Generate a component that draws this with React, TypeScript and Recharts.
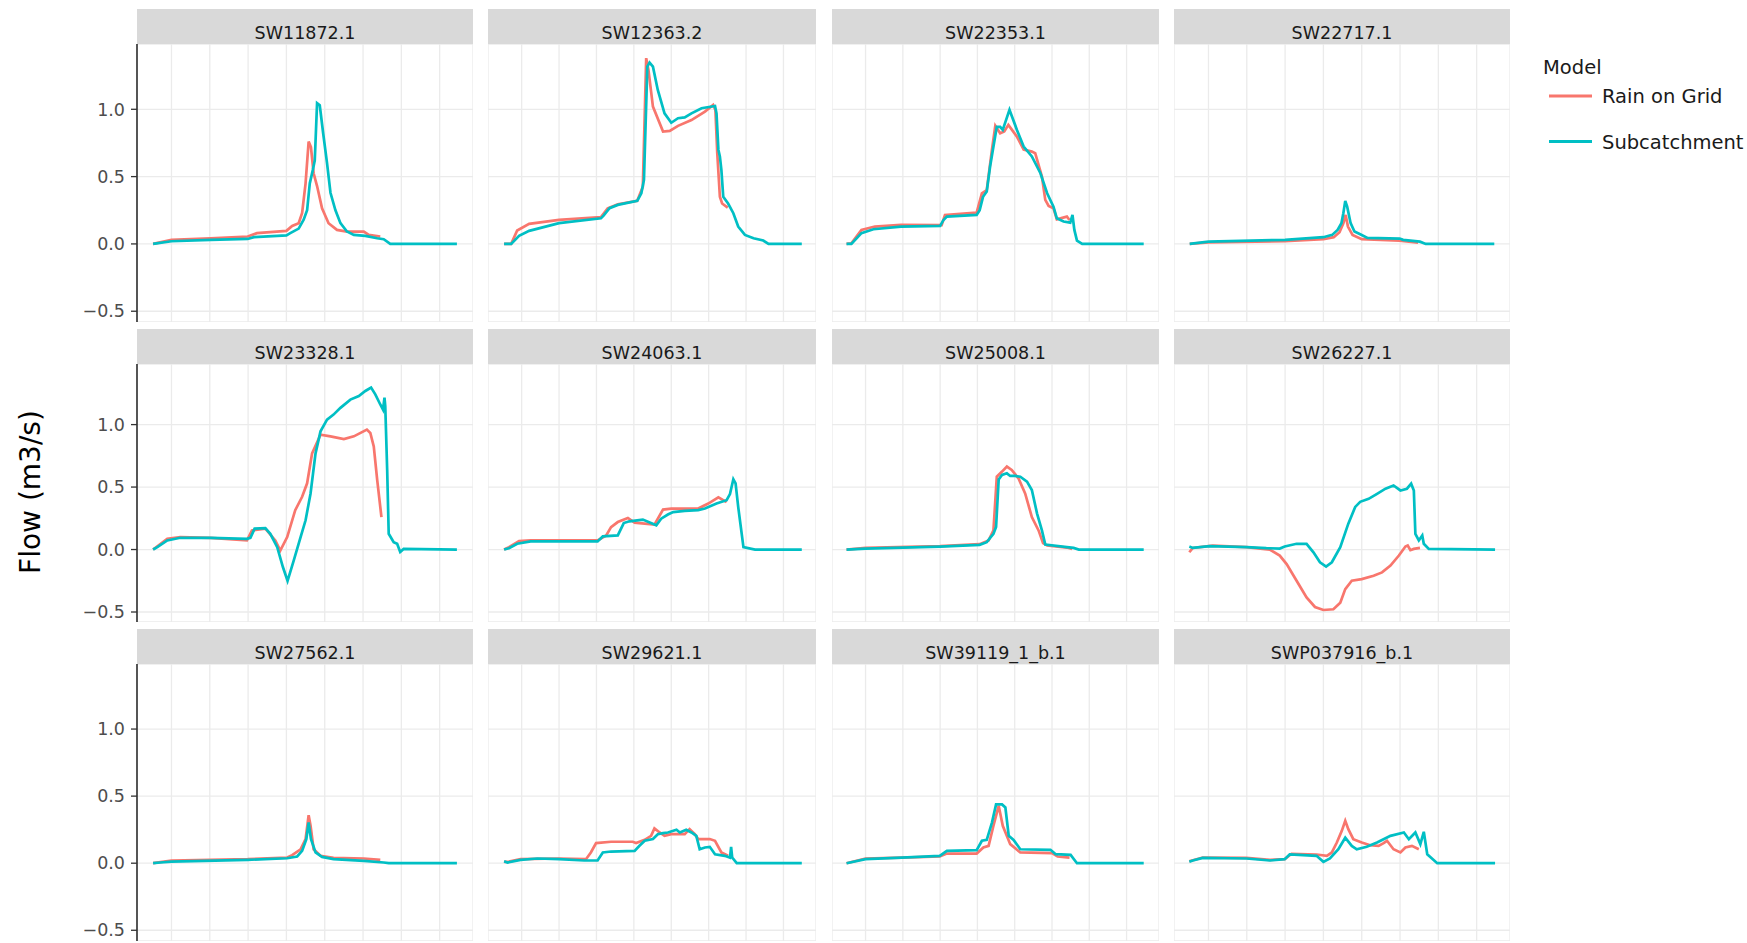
import { CartesianGrid, Line, LineChart, XAxis, YAxis } from "recharts";

// each series is a list of [time, flow m3/s] points
type Pt = [number, number];

const RAIN = "#F8766D";
const SUB = "#00BFC4";

const sw11872Rain: Pt[] = [
  [0.52, 0], [1.0, 0.03], [2.02, 0.042], [2.99, 0.055], [3.23, 0.08], [4.0, 0.097], [4.15, 0.134],
  [4.32, 0.154], [4.41, 0.23], [4.5, 0.45], [4.58, 0.76], [4.64, 0.72], [4.71, 0.525], [4.8, 0.43],
  [4.93, 0.265], [5.1, 0.154], [5.32, 0.104], [5.58, 0.092], [6.02, 0.092], [6.15, 0.067], [6.45, 0.055],
];
const sw11872Sub: Pt[] = [
  [0.52, 0], [1.0, 0.02], [2.02, 0.03], [2.99, 0.037], [3.15, 0.05], [4.0, 0.064], [4.1, 0.08],
  [4.32, 0.114], [4.45, 0.18], [4.54, 0.25], [4.61, 0.45], [4.69, 0.55], [4.74, 0.62], [4.8, 1.045],
  [4.87, 1.03], [4.96, 0.82], [5.06, 0.6], [5.15, 0.38], [5.28, 0.25], [5.41, 0.154], [5.58, 0.092],
  [5.76, 0.067], [6.06, 0.06], [6.37, 0.042], [6.54, 0.035], [6.71, 0], [8.45, 0],
];

const sw12363Rain: Pt[] = [
  [0.53, 0], [0.72, 0], [0.88, 0.1], [1.2, 0.149], [2.0, 0.178], [3.12, 0.2], [3.3, 0.265],
  [3.57, 0.295], [4.09, 0.32], [4.24, 0.425], [4.33, 1.38], [4.39, 1.293], [4.51, 1.02], [4.78, 0.835],
  [4.96, 0.84], [5.18, 0.877], [5.54, 0.92], [5.9, 0.983], [6.12, 1.033], [6.18, 0.995], [6.23, 0.674],
  [6.3, 0.35], [6.36, 0.3], [6.51, 0.27],
];
const sw12363Sub: Pt[] = [
  [0.53, 0], [0.72, 0], [0.93, 0.06], [1.2, 0.097], [2.0, 0.154], [3.12, 0.19], [3.19, 0.21],
  [3.35, 0.265], [3.57, 0.29], [4.09, 0.32], [4.2, 0.376], [4.27, 0.475], [4.36, 1.317], [4.42, 1.347],
  [4.51, 1.317], [4.64, 1.144], [4.82, 0.97], [5.0, 0.9], [5.18, 0.934], [5.36, 0.94], [5.54, 0.97],
  [5.81, 1.008], [6.17, 1.025], [6.21, 0.97], [6.26, 0.7], [6.3, 0.65], [6.34, 0.55], [6.39, 0.35],
  [6.52, 0.3], [6.66, 0.228], [6.79, 0.129], [6.97, 0.067], [7.2, 0.042], [7.46, 0.025], [7.6, 0],
  [8.49, 0],
];

const sw22353Rain: Pt[] = [
  [0.49, 0], [0.62, 0.005], [0.89, 0.104], [1.25, 0.129], [1.95, 0.141], [3.04, 0.139], [3.13, 0.215],
  [3.98, 0.233], [4.12, 0.376], [4.25, 0.4], [4.39, 0.7], [4.48, 0.877], [4.61, 0.822], [4.72, 0.835],
  [4.83, 0.884], [5.06, 0.797], [5.24, 0.7], [5.46, 0.686], [5.55, 0.674], [5.73, 0.5], [5.82, 0.327],
  [5.91, 0.282], [6.04, 0.265], [6.13, 0.183], [6.4, 0.203], [6.47, 0.178],
];
const sw22353Sub: Pt[] = [
  [0.49, 0], [0.62, 0], [0.89, 0.08], [1.21, 0.109], [1.95, 0.129], [3.0, 0.134], [3.09, 0.178],
  [3.18, 0.203], [3.98, 0.215], [4.06, 0.25], [4.15, 0.35], [4.25, 0.39], [4.34, 0.575], [4.43, 0.723],
  [4.52, 0.87], [4.61, 0.87], [4.68, 0.847], [4.86, 0.996], [5.06, 0.847], [5.24, 0.723], [5.46, 0.65],
  [5.69, 0.525], [5.87, 0.376], [6.04, 0.277], [6.13, 0.19], [6.31, 0.166], [6.49, 0.158], [6.55, 0.215],
  [6.6, 0.104], [6.67, 0.025], [6.81, 0], [8.46, 0],
];

const sw22717Rain: Pt[] = [
  [0.51, 0], [1.0, 0.012], [3.0, 0.02], [4.0, 0.035], [4.27, 0.05], [4.42, 0.087], [4.52, 0.154],
  [4.58, 0.215], [4.64, 0.129], [4.76, 0.067], [5.0, 0.035], [5.99, 0.025], [6.47, 0.01],
];
const sw22717Sub: Pt[] = [
  [0.51, 0], [1.0, 0.017], [3.0, 0.03], [4.0, 0.05], [4.23, 0.067], [4.37, 0.104], [4.47, 0.154],
  [4.52, 0.228], [4.57, 0.32], [4.62, 0.277], [4.71, 0.154], [4.81, 0.092], [4.96, 0.072], [5.15, 0.045],
  [5.99, 0.04], [6.08, 0.03], [6.52, 0.017], [6.67, 0], [8.46, 0],
];

const sw23328Rain: Pt[] = [
  [0.52, 0], [0.89, 0.086], [1.23, 0.1], [2.02, 0.094], [2.97, 0.073], [3.1, 0.153], [3.45, 0.167],
  [3.71, 0.073], [3.84, -0.008], [4.02, 0.1], [4.23, 0.315], [4.41, 0.422], [4.54, 0.53], [4.67, 0.77],
  [4.89, 0.919], [5.15, 0.906], [5.5, 0.884], [5.76, 0.906], [6.1, 0.96], [6.19, 0.933], [6.28, 0.825],
  [6.37, 0.556], [6.48, 0.26],
];
const sw23328Sub: Pt[] = [
  [0.52, 0], [0.63, 0.019], [0.89, 0.073], [1.23, 0.094], [2.02, 0.094], [2.97, 0.086], [3.06, 0.094],
  [3.17, 0.167], [3.45, 0.172], [3.58, 0.126], [3.76, 0.019], [3.91, -0.142], [4.03, -0.25], [4.19, -0.089],
  [4.37, 0.1], [4.5, 0.234], [4.63, 0.449], [4.76, 0.77], [4.89, 0.946], [5.06, 1.04], [5.23, 1.08],
  [5.41, 1.134], [5.67, 1.2], [5.89, 1.228], [6.06, 1.269], [6.21, 1.296], [6.32, 1.242], [6.45, 1.161],
  [6.52, 1.12], [6.56, 1.215], [6.58, 1.148], [6.63, 0.637], [6.67, 0.126], [6.8, 0.059], [6.89, 0.046],
  [6.97, -0.02], [7.06, 0.005], [8.45, 0],
];

const sw24063Rain: Pt[] = [
  [0.53, 0], [0.66, 0.019], [0.93, 0.067], [1.24, 0.073], [3.03, 0.073], [3.26, 0.113], [3.39, 0.18],
  [3.57, 0.22], [3.84, 0.253], [4.02, 0.215], [4.55, 0.2], [4.78, 0.32], [5.0, 0.328], [5.72, 0.328],
  [5.99, 0.368], [6.26, 0.417], [6.48, 0.38],
];
const sw24063Sub: Pt[] = [
  [0.53, 0], [0.66, 0.01], [0.88, 0.046], [1.24, 0.065], [2.0, 0.065], [3.03, 0.065], [3.17, 0.105],
  [3.57, 0.113], [3.73, 0.212], [3.88, 0.226], [4.24, 0.24], [4.6, 0.194], [4.73, 0.247], [4.91, 0.28],
  [5.05, 0.3], [5.36, 0.31], [5.72, 0.315], [5.9, 0.328], [6.21, 0.368], [6.48, 0.395], [6.57, 0.444],
  [6.66, 0.562], [6.72, 0.53], [6.79, 0.341], [6.93, 0.019], [7.24, 0], [8.49, 0],
];

const sw25008Rain: Pt[] = [
  [0.49, 0], [1.0, 0.013], [3.0, 0.027], [4.06, 0.043], [4.3, 0.073], [4.43, 0.153], [4.52, 0.583],
  [4.66, 0.624], [4.79, 0.664], [4.92, 0.637], [5.1, 0.57], [5.28, 0.449], [5.46, 0.26], [5.64, 0.153],
  [5.76, 0.051], [5.87, 0.032], [6.4, 0.016], [6.54, 0.005],
];
const sw25008Sub: Pt[] = [
  [0.49, 0], [1.0, 0.008], [3.0, 0.024], [4.06, 0.038], [4.25, 0.059], [4.43, 0.126], [4.5, 0.18],
  [4.57, 0.56], [4.66, 0.597], [4.79, 0.61], [4.88, 0.589], [5.01, 0.589], [5.15, 0.583], [5.33, 0.543],
  [5.46, 0.476], [5.6, 0.288], [5.73, 0.153], [5.82, 0.04], [6.4, 0.02], [6.58, 0.013], [6.72, 0],
  [8.46, 0],
];

const sw26227Rain: Pt[] = [
  [0.5, -0.022], [0.59, 0.013], [1.11, 0.032], [1.99, 0.019], [2.6, 0], [2.86, -0.048], [3.04, -0.116],
  [3.3, -0.25], [3.56, -0.384], [3.78, -0.46], [4.0, -0.484], [4.26, -0.478], [4.44, -0.425], [4.57, -0.317],
  [4.74, -0.25], [5.0, -0.237], [5.31, -0.21], [5.53, -0.183], [5.75, -0.129], [5.97, -0.048], [6.14, 0.024],
  [6.2, 0.032], [6.27, -0.005], [6.36, 0.005], [6.52, 0.013],
];
const sw26227Sub: Pt[] = [
  [0.5, 0.024], [0.59, 0.013], [1.03, 0.027], [1.99, 0.019], [2.51, 0.011], [2.86, 0.008], [2.99, 0.024],
  [3.3, 0.046], [3.56, 0.046], [3.74, -0.022], [3.91, -0.102], [4.07, -0.137], [4.22, -0.102], [4.44, 0.019],
  [4.65, 0.207], [4.83, 0.341], [4.96, 0.382], [5.18, 0.406], [5.4, 0.446], [5.62, 0.487], [5.83, 0.513],
  [6.01, 0.473], [6.18, 0.487], [6.29, 0.527], [6.36, 0.473], [6.4, 0.126], [6.49, 0.073], [6.58, 0.113],
  [6.62, 0.046], [6.75, 0.005], [8.48, 0],
];

const sw27562Rain: Pt[] = [
  [0.52, 0], [1.0, 0.02], [2.99, 0.03], [4.02, 0.042], [4.15, 0.06], [4.37, 0.104], [4.5, 0.18],
  [4.58, 0.358], [4.63, 0.279], [4.71, 0.104], [4.89, 0.055], [5.23, 0.04], [6.02, 0.035], [6.45, 0.025],
];
const sw27562Sub: Pt[] = [
  [0.52, 0], [0.71, 0.005], [1.0, 0.012], [2.99, 0.025], [4.02, 0.037], [4.28, 0.05], [4.41, 0.092],
  [4.52, 0.18], [4.58, 0.303], [4.64, 0.18], [4.76, 0.08], [4.93, 0.047], [5.23, 0.03], [6.02, 0.017],
  [6.54, 0.005], [6.67, 0], [8.45, 0],
];

const sw29621Rain: Pt[] = [
  [0.53, 0.01], [0.66, 0.012], [0.97, 0.03], [2.0, 0.035], [2.72, 0.03], [2.85, 0.08], [2.99, 0.15],
  [3.39, 0.16], [3.97, 0.16], [4.06, 0.15], [4.29, 0.174], [4.46, 0.204], [4.55, 0.259], [4.69, 0.229],
  [4.82, 0.204], [5.0, 0.216], [5.36, 0.216], [5.49, 0.254], [5.63, 0.216], [5.72, 0.18], [6.03, 0.18],
  [6.17, 0.167], [6.34, 0.08], [6.52, 0.055],
];
const sw29621Sub: Pt[] = [
  [0.53, 0.015], [0.62, 0.005], [0.97, 0.025], [1.42, 0.035], [2.0, 0.03], [2.67, 0.02], [3.03, 0.02],
  [3.17, 0.08], [3.39, 0.087], [4.02, 0.092], [4.15, 0.13], [4.29, 0.167], [4.51, 0.18], [4.64, 0.216],
  [4.78, 0.224], [4.91, 0.229], [5.14, 0.249], [5.23, 0.229], [5.4, 0.249], [5.54, 0.229], [5.67, 0.204],
  [5.76, 0.104], [5.9, 0.117], [6.03, 0.122], [6.17, 0.067], [6.43, 0.055], [6.57, 0.042], [6.6, 0.122],
  [6.63, 0.042], [6.75, 0], [8.49, 0],
];

const sw39119Rain: Pt[] = [
  [0.49, 0], [1.0, 0.035], [1.97, 0.042], [2.99, 0.05], [3.18, 0.072], [3.98, 0.072], [4.16, 0.117],
  [4.3, 0.129], [4.43, 0.279], [4.57, 0.428], [4.68, 0.279], [4.88, 0.142], [5.15, 0.08], [6.0, 0.075],
  [6.15, 0.05], [6.47, 0.042],
];
const sw39119Sub: Pt[] = [
  [0.49, 0], [1.0, 0.03], [1.97, 0.042], [2.99, 0.055], [3.18, 0.092], [3.98, 0.097], [4.12, 0.167],
  [4.25, 0.174], [4.39, 0.303], [4.5, 0.438], [4.66, 0.438], [4.75, 0.415], [4.84, 0.204], [4.97, 0.174],
  [5.15, 0.104], [5.96, 0.1], [6.1, 0.067], [6.5, 0.062], [6.67, 0], [8.46, 0],
];

const swp037916Rain: Pt[] = [
  [0.5, 0.015], [0.85, 0.042], [1.99, 0.04], [2.6, 0.025], [2.99, 0.03], [3.17, 0.07], [3.82, 0.065],
  [4.09, 0.055], [4.22, 0.08], [4.35, 0.154], [4.48, 0.241], [4.57, 0.316], [4.65, 0.254], [4.78, 0.179],
  [5.0, 0.154], [5.22, 0.134], [5.44, 0.129], [5.57, 0.149], [5.66, 0.167], [5.83, 0.104], [6.01, 0.08],
  [6.14, 0.117], [6.31, 0.129], [6.49, 0.104],
];
const swp037916Sub: Pt[] = [
  [0.5, 0.01], [0.59, 0.02], [0.85, 0.04], [1.99, 0.035], [2.6, 0.02], [2.99, 0.03], [3.12, 0.065],
  [3.82, 0.055], [4.0, 0.01], [4.17, 0.035], [4.39, 0.104], [4.57, 0.19], [4.74, 0.129], [4.87, 0.104],
  [5.13, 0.122], [5.4, 0.154], [5.75, 0.204], [6.1, 0.229], [6.23, 0.179], [6.4, 0.229], [6.53, 0.142],
  [6.62, 0.234], [6.71, 0.067], [6.97, 0], [8.48, 0],
];

const PANELS = [
  { id: "SW11872.1", rain: sw11872Rain, sub: sw11872Sub },
  { id: "SW12363.2", rain: sw12363Rain, sub: sw12363Sub },
  { id: "SW22353.1", rain: sw22353Rain, sub: sw22353Sub },
  { id: "SW22717.1", rain: sw22717Rain, sub: sw22717Sub },
  { id: "SW23328.1", rain: sw23328Rain, sub: sw23328Sub },
  { id: "SW24063.1", rain: sw24063Rain, sub: sw24063Sub },
  { id: "SW25008.1", rain: sw25008Rain, sub: sw25008Sub },
  { id: "SW26227.1", rain: sw26227Rain, sub: sw26227Sub },
  { id: "SW27562.1", rain: sw27562Rain, sub: sw27562Sub },
  { id: "SW29621.1", rain: sw29621Rain, sub: sw29621Sub },
  { id: "SW39119_1_b.1", rain: sw39119Rain, sub: sw39119Sub },
  { id: "SWP037916_b.1", rain: swp037916Rain, sub: swp037916Sub },
];

const X_TICKS = [1, 2, 3, 4, 5, 6, 7, 8];
const Y_TICKS = [-0.5, 0, 0.5, 1];
const X_DOMAIN: [number, number] = [0.1, 8.87];
const Y_DOMAIN: [number, number] = [-0.58, 1.485];

// facet geometry (px)
const COLS = [
  { left: 137, width: 336 },
  { left: 488, width: 328 },
  { left: 832, width: 327 },
  { left: 1174, width: 336 },
];
const ROWS = [
  { strip: 9, top: 44, height: 278 },
  { strip: 329, top: 364, height: 258 },
  { strip: 629, top: 664, height: 277 },
];
const AXIS_W = 60;
const FONT = "'DejaVu Sans', Verdana, sans-serif";

const toRows = (pts: Pt[]) => pts.map(([t, q]) => ({ t, q }));
const fmtY = (v: number) => (v < 0 ? "\u2212" : "") + Math.abs(v).toFixed(1);

function Facet({ index }: { index: number }) {
  const p = PANELS[index];
  const c = COLS[index % 4];
  const r = ROWS[Math.floor(index / 4)];
  const first = index % 4 === 0;
  const axisW = first ? AXIS_W : 0;
  const stripH = r.top - r.strip;
  return (
    <>
      <svg
        width={c.width}
        height={stripH}
        style={{ position: "absolute", left: c.left, top: r.strip, display: "block" }}
      >
        <rect width={c.width} height={stripH} fill="#D9D9D9" />
        <text x={c.width / 2} y={30} textAnchor="middle" fontFamily={FONT} fontSize={17.5} fill="#1A1A1A">
          {p.id}
        </text>
      </svg>
      <div style={{ position: "absolute", left: c.left - axisW, top: r.top }}>
        <LineChart width={c.width + axisW} height={r.height} margin={{ top: 0, right: 0, bottom: 0, left: 0 }}>
          <CartesianGrid stroke="#EBEBEB" strokeWidth={1.3} />
          <XAxis type="number" dataKey="t" domain={X_DOMAIN} ticks={X_TICKS} allowDataOverflow hide />
          <YAxis
            type="number"
            domain={Y_DOMAIN}
            ticks={Y_TICKS}
            interval={0}
            allowDataOverflow
            hide={!first}
            width={axisW}
            tickFormatter={fmtY}
            tickSize={6}
            tickMargin={6}
            axisLine={{ stroke: "#000", strokeWidth: 1.3 }}
            tickLine={{ stroke: "#333", strokeWidth: 1.3 }}
            tick={{ fill: "#4D4D4D", fontSize: 17.5, fontFamily: FONT }}
          />
          <Line
            data={toRows(p.rain)}
            dataKey="q"
            type="linear"
            stroke={RAIN}
            strokeWidth={2.7}
            dot={false}
            isAnimationActive={false}
          />
          <Line
            data={toRows(p.sub)}
            dataKey="q"
            type="linear"
            stroke={SUB}
            strokeWidth={2.7}
            dot={false}
            isAnimationActive={false}
          />
        </LineChart>
      </div>
    </>
  );
}

export default function App() {
  return (
    <div style={{ position: "absolute", left: 0, top: 0, width: 1747, height: 943, background: "#fff", overflow: "hidden" }}>
      {PANELS.map((_, i) => (
        <Facet key={i} index={i} />
      ))}
      <svg width={60} height={943} style={{ position: "absolute", left: 0, top: 0 }}>
        <text
          transform="translate(40, 492) rotate(-90)"
          textAnchor="middle"
          fontFamily={FONT}
          fontSize={28}
          fill="#000"
        >
          Flow (m3/s)
        </text>
      </svg>
      <svg width={220} height={170} style={{ position: "absolute", left: 1527, top: 0 }}>
        <text x={16} y={73.5} fontFamily={FONT} fontSize={19.5} fill="#1A1A1A">
          Model
        </text>
        <line x1={22} x2={65} y1={96} y2={96} stroke={RAIN} strokeWidth={3} />
        <text x={75} y={103} fontFamily={FONT} fontSize={19.5} fill="#1A1A1A">
          Rain on Grid
        </text>
        <line x1={22} x2={65} y1={141.5} y2={141.5} stroke={SUB} strokeWidth={3} />
        <text x={75} y={149} fontFamily={FONT} fontSize={19.5} fill="#1A1A1A">
          Subcatchment
        </text>
      </svg>
    </div>
  );
}
